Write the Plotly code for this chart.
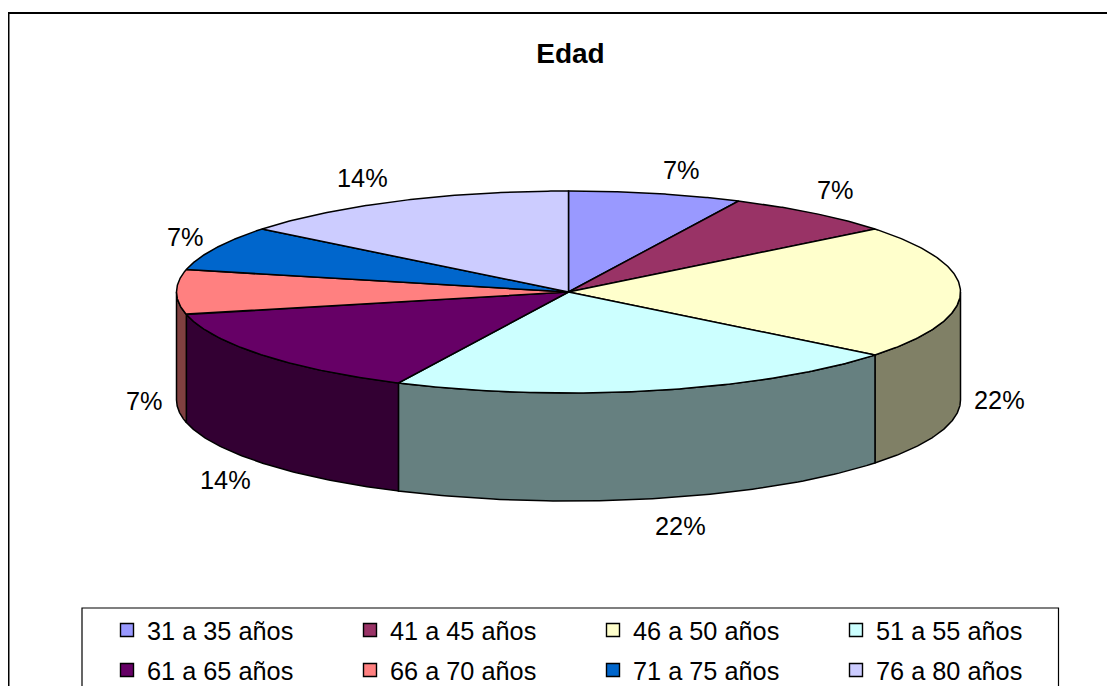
import numpy as np
import plotly.graph_objects as go

# --- data
categories = ["31 a 35 años", "41 a 45 años", "46 a 50 años", "51 a 55 años",
              "61 a 65 años", "66 a 70 años", "71 a 75 años", "76 a 80 años"]
counts = [1, 1, 3, 3, 2, 1, 1, 2]               # slice sizes
percent_labels = [7, 7, 22, 22, 14, 7, 7, 14]   # percentages as printed on the chart
title_text = "Edad"

# --- style
top_colors = ["#9999FF", "#993366", "#FFFFCC", "#CCFFFF", "#660066", "#FF8080", "#0066CC", "#CCCCFF"]
wall_colors = ["#4D4D80", "#4D1A33", "#808066", "#668080", "#330033", "#804040", "#003366", "#666680"]
W, H = 1115, 686
PAGE_MARGIN = 8  # the page body's own margin shifts the figure by this much
CX, CY, RX, RY, DEPTH = 568.5, 292.0, 392.0, 101.0, 108.0
FONT = "Liberation Sans, Arial, sans-serif"
LABEL_SIZE = 25.3
# pixel nudges of each percentage label from the rim point at the slice's middle angle
label_nudge = [(26, -24), (23, -23), (39, 0), (25, 28), (-37, 17), (-32, 1), (-30, -11), (-36, -23)]

shares = np.array(counts, dtype=float) / sum(counts)
edges = np.concatenate([[0.0], np.cumsum(shares)]) * 360.0


def rim(deg, drop=0.0):
    a = np.radians(deg)
    return CX + RX * np.sin(a), CY - RY * np.cos(a) + drop


def px(x):
    return (x - PAGE_MARGIN) / W


def py(y):
    return 1 - (y - PAGE_MARGIN) / H


fig = go.Figure()

# side walls: only the front half of the disc (90..270 degrees clockwise from top) is visible
for i in range(len(counts)):
    lo, hi = max(edges[i], 90.0), min(edges[i + 1], 270.0)
    if hi <= lo:
        continue
    t = np.linspace(lo, hi, 80)
    x1, y1 = rim(t)
    x2, y2 = rim(t[::-1], DEPTH)
    fig.add_trace(go.Scatter(
        x=np.concatenate([x1, x2, x1[:1]]), y=np.concatenate([y1, y2, y1[:1]]),
        mode="lines", fill="toself", fillcolor=wall_colors[i],
        line=dict(color="black", width=1.5), showlegend=False, hoverinfo="skip"))

# top face
for i in range(len(counts)):
    t = np.linspace(edges[i], edges[i + 1], 120)
    x, y = rim(t)
    fig.add_trace(go.Scatter(
        x=np.concatenate([[CX], x, [CX]]), y=np.concatenate([[CY], y, [CY]]),
        mode="lines", fill="toself", fillcolor=top_colors[i],
        line=dict(color="black", width=1.5), showlegend=False, hoverinfo="skip"))

# legend entries, split over two native legends to reproduce the row spacing
half = len(categories) // 2
for i, name in enumerate(categories):
    fig.add_trace(go.Scatter(
        x=[None], y=[None], mode="markers", name=name,
        marker=dict(symbol="square", size=13, color=top_colors[i], line=dict(color="black", width=1.4)),
        legend="legend" if i < half else "legend2"))

# percentage labels
annotations = []
for i, p in enumerate(percent_labels):
    mid = (edges[i] + edges[i + 1]) / 2
    drop = DEPTH if 89.9 <= mid <= 270.1 else 0.0
    x, y = rim(mid, drop)
    annotations.append(dict(
        x=float(x), y=float(y), text=f"{p}%", showarrow=False, xanchor="center", yanchor="middle",
        xshift=label_nudge[i][0], yshift=-label_nudge[i][1],
        font=dict(family=FONT, size=LABEL_SIZE, color="black")))

legend_style = dict(
    orientation="h", entrywidth=198, entrywidthmode="pixels", itemwidth=30,
    bgcolor="rgba(0,0,0,0)", borderwidth=0, xanchor="left", yanchor="middle", x=px(107),
    font=dict(family=FONT, size=LABEL_SIZE, color="black"), traceorder="normal")

fig.update_layout(
    width=W, height=H, autosize=False, paper_bgcolor="white", plot_bgcolor="white",
    margin=dict(l=0, r=0, t=0, b=0, autoexpand=False),
    title=dict(text=f"<b>{title_text}</b>", x=px(570.5), xanchor="center", y=py(53), yanchor="middle",
               font=dict(family=FONT, size=28, color="black")),
    xaxis=dict(range=[PAGE_MARGIN, W + PAGE_MARGIN], visible=False, fixedrange=True),
    yaxis=dict(range=[H + PAGE_MARGIN, PAGE_MARGIN], visible=False, fixedrange=True),
    legend=dict(y=py(630), **legend_style),
    legend2=dict(y=py(670), **legend_style),
    annotations=annotations,
    shapes=[
        dict(type="rect", xref="x", yref="y", x0=8.5, y0=13, x1=W + 30, y1=H + 30,
             line=dict(color="black", width=2), fillcolor="rgba(0,0,0,0)", layer="below"),
        dict(type="rect", xref="x", yref="y", x0=82, y0=608, x1=1058.5, y1=H + 30,
             line=dict(color="black", width=1.2), fillcolor="rgba(0,0,0,0)", layer="below"),
    ],
)
fig.write_html("out.html", config=dict(displayModeBar=False))
